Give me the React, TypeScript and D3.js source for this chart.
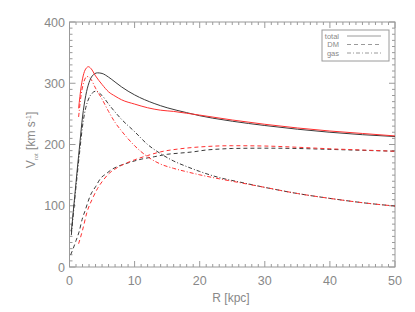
import React from "react";
import * as d3 from "d3";

const W = 415;
const H = 312;

// ---- data ----
const blackTotalR = [0.28, 0.8, 1.2, 1.6, 2.0, 2.5, 3.0, 3.5, 4.3, 5, 6, 7, 8, 10, 13, 15, 18, 20, 22, 25, 30, 35, 40, 45, 50];
const blackTotalV = [57, 115, 160, 203, 245, 280, 301, 312, 317, 316, 310, 302, 294, 281, 267, 260, 252, 247, 243, 238, 231, 225, 220, 216, 213];

const blackDMR = [0.18, 0.6, 1.0, 1.46, 2.0, 2.33, 3.25, 4, 4.8, 5.6, 6.6, 7.6, 9, 11, 13, 15, 17, 19, 21, 23, 25, 30, 35, 40, 45, 50];
const blackDMV = [20, 31, 43, 57, 80, 90, 118, 131, 145, 152, 160, 165, 170, 176, 180, 184, 186, 188, 191, 192.5, 193.5, 194, 193.5, 192, 190.5, 189];

const blackGasR = [0.28, 0.8, 1.2, 1.6, 2, 2.5, 3, 3.5, 4, 5, 6, 7, 8, 10, 12, 14, 16, 18, 20, 23, 26, 30, 35, 40, 45, 50];
const blackGasV = [52, 110, 152, 192, 230, 260, 276, 284, 287, 280, 266, 253, 241, 221, 200, 185, 173, 164, 156, 146, 139, 130, 120, 112, 105, 99.5];

const redTotalR = [1.4, 1.8, 2.2, 2.6, 2.9, 3.3, 4, 5, 6, 7, 8, 10, 12, 14, 16, 18, 20, 25, 30, 35, 40, 45, 50];
const redTotalV = [259, 295, 316, 325, 327, 324, 312, 298, 286, 279, 273, 266, 260, 256, 254, 251, 248, 240, 233, 227, 222, 218, 214];

const redDMR = [1.4, 2.0, 2.7, 3.5, 4.3, 5.2, 6.1, 7, 8, 10, 12, 14, 17, 20, 25, 30, 35, 40, 45, 50];
const redDMV = [38, 60, 90, 111, 128, 142, 153, 160, 166, 175, 182, 188, 193, 196, 198, 197.5, 195.5, 193, 191, 189];

const redGasR = [1.4, 1.8, 2.2, 2.7, 3.2, 4, 5, 6, 7, 8, 10, 12, 14, 16, 18, 20, 23, 26, 30, 35, 40, 45, 50];
const redGasV = [245, 282, 302, 311, 308, 292, 274, 254, 236, 222, 198, 180, 168, 161, 155.5, 150.5, 144, 138, 130, 120, 112, 105, 99.5];

const xTicks = [0, 10, 20, 30, 40, 50];
const yTicks = [0, 100, 200, 300, 400];
const legendLabels = ["total", "DM", "gas"];

const DASH = "4,3";
const DASHDOT = "4,2,1,2";
const BLACK = "#3a3a3a";
const RED = "#ff3030";
const AXIS = "#9a9a9a";
const TEXT = "#888";
const FONT = "'Liberation Sans', Arial, sans-serif";

export default function App() {
  const x = d3.scaleLinear().domain([0, 50]).range([69.5, 395]);
  const y = d3.scaleLinear().domain([0, 400]).range([267, 22]);
  const [x0, x1] = x.range();
  const [y0, y1] = y.range();

  const line = (rs: number[], vs: number[]) =>
    d3
      .line<number>()
      .x((_, i) => x(rs[i]))
      .y((v) => y(v))
      .curve(d3.curveMonotoneX)(vs) || "";

  const series = [
    { r: blackDMR, v: blackDMV, c: BLACK, d: DASH },
    { r: redDMR, v: redDMV, c: RED, d: DASH },
    { r: blackGasR, v: blackGasV, c: BLACK, d: DASHDOT },
    { r: redGasR, v: redGasV, c: RED, d: DASHDOT },
    { r: blackTotalR, v: blackTotalV, c: BLACK, d: undefined },
    { r: redTotalR, v: redTotalV, c: RED, d: undefined },
  ];

  const xMinor = d3.range(0, 51, 1);
  const yMinor = d3.range(0, 401, 10);

  const legendDash = [undefined, DASH, DASHDOT];

  return (
    <svg
      width={W}
      height={H}
      style={{ position: "absolute", left: 0, top: 0, background: "#fff" }}
    >
      {/* frame */}
      <rect x={x0} y={y1} width={x1 - x0} height={y0 - y1} fill="none" stroke={AXIS} strokeWidth={1} />
      {xMinor.map((t) => {
        const len = t % 10 === 0 ? 6 : 3;
        return (
          <g key={"xt" + t} stroke={AXIS} strokeWidth={1}>
            <line x1={x(t)} x2={x(t)} y1={y0} y2={y0 - len} />
            <line x1={x(t)} x2={x(t)} y1={y1} y2={y1 + len} />
          </g>
        );
      })}
      {yMinor.map((t) => {
        const len = t % 100 === 0 ? 6 : 3;
        return (
          <g key={"yt" + t} stroke={AXIS} strokeWidth={1}>
            <line x1={x0} x2={x0 + len} y1={y(t)} y2={y(t)} />
            <line x1={x1} x2={x1 - len} y1={y(t)} y2={y(t)} />
          </g>
        );
      })}
      {xTicks.map((t) => (
        <text key={"xl" + t} x={x(t)} y={285} textAnchor="middle" fontFamily={FONT} fontSize={12.5} fill={TEXT}>
          {t}
        </text>
      ))}
      {yTicks.map((t) => (
        <text key={"yl" + t} x={65} y={y(t) + 4.5} textAnchor="end" fontFamily={FONT} fontSize={12.5} fill={TEXT}>
          {t}
        </text>
      ))}
      <text x={231} y={302} textAnchor="middle" fontFamily={FONT} fontSize={12} fill={TEXT}>
        R [kpc]
      </text>
      <text
        transform={`translate(35,140) rotate(-90)`}
        textAnchor="middle"
        fontFamily={FONT}
        fontSize={12}
        fill={TEXT}
      >
        V<tspan fontSize={6} dy={3}>rot</tspan>
        <tspan dy={-3}> [km s</tspan>
        <tspan fontSize={7} dy={-4}>-1</tspan>
        <tspan dy={4}>]</tspan>
      </text>

      {/* curves */}
      {series.map((s, i) => (
        <path key={i} d={line(s.r, s.v)} fill="none" stroke={s.c} strokeWidth={1} strokeDasharray={s.d} />
      ))}

      {/* legend */}
      <rect x={322} y={30} width={67} height={31} fill="#fff" stroke={AXIS} strokeWidth={1} />
      {legendLabels.map((lab, i) => (
        <g key={lab}>
          <text x={339} y={38.5 + i * 8.5} textAnchor="end" fontFamily={FONT} fontSize={7.5} fill={TEXT}>
            {lab}
          </text>
          <line x1={347} x2={381} y1={36 + i * 8.5} y2={36 + i * 8.5} stroke={AXIS} strokeWidth={1} strokeDasharray={legendDash[i]} />
        </g>
      ))}
    </svg>
  );
}
